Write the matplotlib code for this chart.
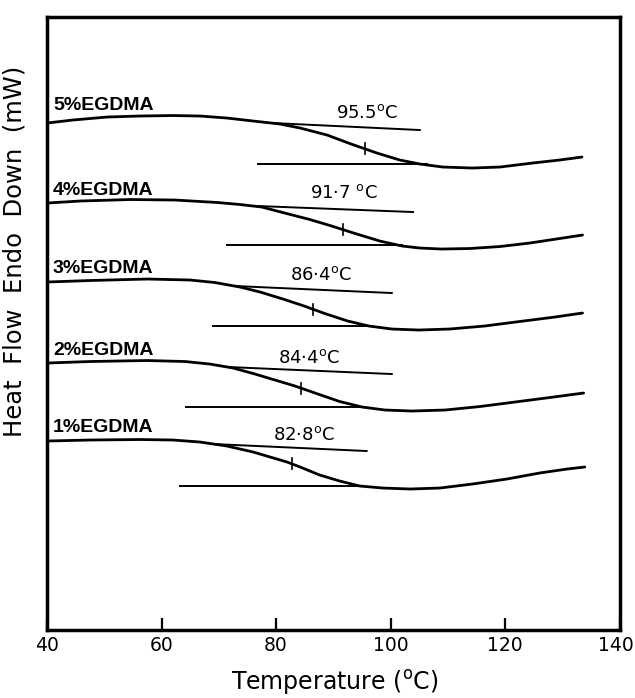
import numpy as np
import matplotlib.pyplot as plt
import matplotlib.transforms as mtransforms

# DSC traces: temperature (C) and heat flow (arbitrary offset units, endo down)
temp_1 = [40, 47.5, 56.2, 62.0, 66.7, 71.4, 76.0, 81.9, 84.2, 87.6, 91.1, 94.6, 98.6, 103.4,
          108.6, 114.3, 120.3, 126.0, 130.8, 133.9]
flow_1 = [189, 190, 190.5, 190, 188, 184, 178, 168, 163, 155, 149, 144, 142, 141,
          142, 146, 151, 157, 161, 163]

temp_2 = [40, 47.5, 57.5, 64.1, 68.4, 72.5, 76.3, 79.8, 83.3, 87.3, 91.1, 95.0, 99.0, 103.7,
          109.5, 115.6, 121.7, 127.8, 133.7]
flow_2 = [267, 268.5, 269.5, 268.5, 266, 262, 256, 250, 244, 236, 228.5, 223, 220, 219,
          220, 223.5, 228, 232.5, 237]

temp_3 = [40, 47.5, 57.5, 65.0, 69.3, 73.7, 77.2, 81.2, 84.9, 88.5, 92.5, 96.2, 100.2, 104.9,
          110.3, 116.4, 122.5, 128.7, 133.5]
flow_3 = [348, 349.5, 351, 350, 347.5, 343, 338, 331, 324, 316.5, 309, 304, 301, 300,
          301, 304, 308.5, 313, 317]

temp_4 = [40, 45.8, 54.5, 62.3, 69.8, 73.7, 77.5, 81.5, 85.9, 89.7, 93.8, 98.1, 102.0, 105.1,
          108.9, 113.8, 119.1, 124.3, 129.5, 133.5]
flow_4 = [427, 429, 430.5, 430, 427.5, 425.5, 423, 417, 410.5, 404, 396.5, 389, 384, 382,
          381, 381.5, 383.5, 387, 391.5, 395]

temp_5 = [40, 44.5, 50.5, 56.2, 62.0, 66.7, 71.4, 76.0, 80.7, 84.2, 88.9, 93.1, 97.6, 101.6,
          105.1, 109.1, 114.3, 119.1, 124.8, 129.5, 133.4]
flow_5 = [507, 510, 513, 514, 514.5, 514, 512, 509, 506, 502, 495, 486, 477, 470,
          466, 463, 462, 463, 467, 470, 473]

samples = ['1%EGDMA', '2%EGDMA', '3%EGDMA', '4%EGDMA', '5%EGDMA']
tg_values = [82.8, 84.4, 86.4, 91.7, 95.5]
tg_text = ['82·8', '84·4', '86·4', '91·7 ', '95.5']

# onset / endset tangent lines used for the Tg construction
upper_temp = [[69.0, 95.8], [71.6, 100.2], [72.8, 100.2], [76.8, 103.9], [79.4, 105.1]]
upper_flow = [[186, 179], [263, 256], [344, 337], [424, 418], [507, 500]]
lower_temp = [[63.2, 94.1], [64.3, 95.0], [69.0, 96.7], [71.4, 102.0], [76.8, 106.3]]
lower_flow = [[144, 144], [223, 223], [304, 304], [385, 385], [466, 466]]

temps = [temp_1, temp_2, temp_3, temp_4, temp_5]
flows = [flow_1, flow_2, flow_3, flow_4, flow_5]

# where the sample name (left, centre) and the Tg value (centre, baseline) sit
name_pos = [(41.05, 203), (41.05, 280), (41.05, 362), (41.05, 440), (41.05, 525)]
tg_pos = [(84.85, 190), (85.7, 267), (87.8, 350), (91.8, 432), (95.85, 512)]

fig = plt.figure(figsize=(6.35, 6.98), dpi=100)
ax = fig.add_axes([0.074, 0.0974, 0.902, 0.8782])

for i in range(len(samples)):
    ax.plot(temps[i], flows[i], color='black', lw=2.0, solid_joinstyle='round',
            solid_capstyle='round')
    ax.plot(upper_temp[i], upper_flow[i], color='black', lw=1.4)
    ax.plot(lower_temp[i], lower_flow[i], color='black', lw=1.4)

    # short mark on the trace at Tg
    y_tg = np.interp(tg_values[i], temps[i], flows[i])
    ax.plot([tg_values[i], tg_values[i]], [y_tg - 5.5, y_tg + 5.5], color='black', lw=1.2)

    ax.text(name_pos[i][0], name_pos[i][1], samples[i], fontsize=14, fontweight='bold',
            family=['Liberation Sans', 'DejaVu Sans'], va='center', ha='left')
    ax.text(tg_pos[i][0], tg_pos[i][1], tg_text[i] + r'$^\mathregular{o}$C', fontsize=13,
            va='baseline', ha='center')

ax.set_xlim(40, 140)
ax.set_ylim(0, 613)
ax.set_xticks([40, 60, 80, 100, 120, 140])
ax.set_yticks([])
ax.tick_params(axis='x', direction='in', length=8.5, width=1.6, labelsize=13.5, pad=4)

# keep the last tick label inside the figure
last = ax.get_xticklabels()[-1]
last.set_transform(last.get_transform() + mtransforms.ScaledTranslation(-4 / 100, 0, fig.dpi_scale_trans))

for side in ['left', 'right', 'top', 'bottom']:
    ax.spines[side].set_linewidth(2.5)

ax.set_xlabel(r'Temperature ($^\mathregular{o}$C)', fontsize=17)
ax.xaxis.set_label_coords(0.503, -0.062)
ax.set_ylabel('Heat  Flow  Endo  Down  (mW)', fontsize=17.5)
ax.yaxis.set_label_coords(-0.035, 0.617)

plt.savefig('out.png', dpi=100)
